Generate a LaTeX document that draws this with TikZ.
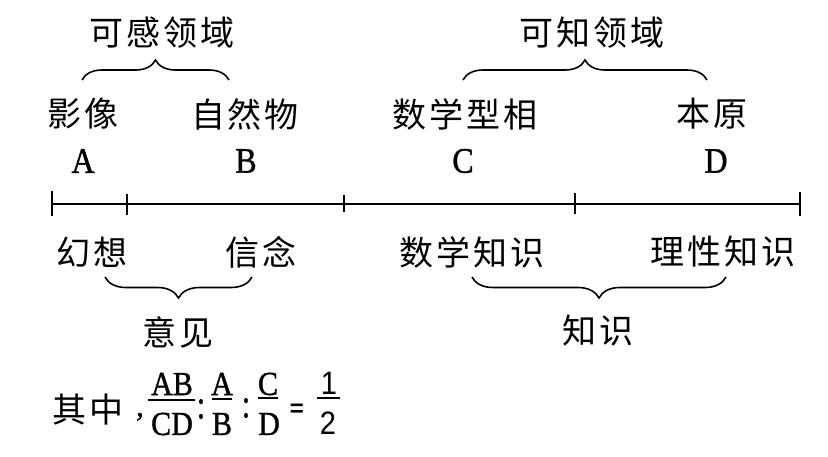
\documentclass[tikz,border=0pt]{standalone}
\usepackage{fontspec}
\setmainfont{Liberation Serif}
\newfontfamily\ltfont[FakeBold=1.2]{Liberation Serif}
\newfontfamily\cjk{Noto Sans CJK SC}
\newfontfamily\lsans{Liberation Sans}
\usetikzlibrary{decorations.pathreplacing}
\newcommand\cg{\hspace{3pt}}
\newcommand\tall[1]{\scalebox{1}[1.12]{#1}}
\begin{document}
\begin{tikzpicture}[x=1pt,y=-1pt,
  zh/.style={font=\cjk\fontsize{34}{38}\selectfont, inner sep=0pt},
  lt/.style={font=\ltfont\fontsize{32}{36}\selectfont, inner sep=0pt},
  fl/.style={font=\ltfont\fontsize{30}{34}\selectfont, inner sep=0pt},
  dg/.style={font=\lsans\fontsize{29}{34}\selectfont, inner sep=0pt},
  axisline/.style={line width=1.6pt},
  tickmark/.style={line width=1.4pt},
  fracbar/.style={line width=1.5pt},
  bracetop/.style={line width=1.6pt, decorate, decoration={brace, amplitude=20pt}},
  bracebot/.style={line width=1.6pt, decorate, decoration={brace, mirror, amplitude=21pt}}]
\useasboundingbox[fill=white] (0,0) rectangle (828,456);

% axis
\coordinate (p0) at (52,204);
\coordinate (p1) at (127,204);
\coordinate (p2) at (344,204);
\coordinate (p3) at (575,204);
\coordinate (p4) at (800,204);
\draw[axisline] (p0) -- (p4);
\draw[tickmark] ([yshift=-12pt]p0) -- ([yshift=13pt]p0);
\draw[tickmark] ([yshift=-11pt]p1) -- ([yshift=10pt]p1);
\draw[tickmark] ([yshift=-8pt]p2) -- ([yshift=9pt]p2);
\draw[tickmark] ([yshift=-10pt]p3) -- ([yshift=11pt]p3);
\draw[tickmark] ([yshift=-12pt]p4) -- ([yshift=12pt]p4);

% letters
\node[lt] (A) at (83,161) {\tall{A}};
\node[lt] (B) at (246,161) {\tall{B}};
\node[lt] (C) at (463,161) {\tall{C}};
\node[lt] (D) at (716,161) {\tall{D}};

% upper labels
\node[zh] (yx) at (83,114) {影\cg 像};
\node[zh] (zrw) at (245,114) {自\cg 然\cg 物};
\node[zh] (sxxx) at (465,114) {数\cg 学\cg 型\cg 相};
\node[zh] (by) at (712,114) {本\cg 原};

% upper braces
\coordinate (b1l) at (82,80);
\coordinate (b1r) at (229,80);
\coordinate (b2l) at (463,80);
\coordinate (b2r) at (707,80);
\draw[bracetop] (b1l) -- (b1r);
\draw[bracetop] (b2l) -- (b2r);
\node[zh] (kg) at (162,33) {可\cg 感\cg 领\cg 域};
\node[zh] (kz) at (592,33) {可\cg 知\cg 领\cg 域};

% lower labels
\node[zh] (hx) at (92,252) {幻\cg 想};
\node[zh] (xn) at (261,252) {信\cg 念};
\node[zh] (sxzs) at (472,252) {数\cg 学\cg 知\cg 识};
\node[zh] (lxzs) at (723,252) {理\cg 性\cg 知\cg 识};

% lower braces
\coordinate (b3l) at (105,277);
\coordinate (b3r) at (252,277);
\coordinate (b4l) at (472,277);
\coordinate (b4r) at (726,277);
\draw[bracebot] (b3l) -- (b3r);
\draw[bracebot] (b4l) -- (b4r);
\node[zh] (yj) at (178,332) {意\cg 见};
\node[zh] (zs) at (598,331) {知\cg 识};

% formula
\node[zh] (qz) at (88,410) {其\cg 中};
\node[fl, anchor=base] (cm) at (140,416) {,};
\node[fl] (n1) at (172,384) {\tall{AB}};
\node[fl] (d1) at (172,424) {\tall{CD}};
\draw[fracbar] (148,400) -- (195,400);
\node[fl] (c1) at (201,409) {\scalebox{1}[1.35]{:}};
\node[fl] (n2) at (222,384) {\tall{A}};
\node[fl] (d2) at (222,424) {\tall{B}};
\draw[fracbar] (212,399) -- (232,399);
\node[fl] (c2) at (246,408) {\scalebox{1}[1.35]{:}};
\node[fl] (n3) at (268,384) {\tall{C}};
\node[fl] (d3) at (269,424) {\tall{D}};
\draw[fracbar] (258,398) -- (278,398);
\node[font=\lsans\bfseries\fontsize{24}{28}\selectfont, inner sep=0pt] (eq) at (297,410) {=};
\node[dg] (n4) at (329,383) {\tall{1}};
\node[dg] (d4) at (328,423) {\tall{2}};
\draw[fracbar] (317,398) -- (340,398);
\end{tikzpicture}
\end{document}
